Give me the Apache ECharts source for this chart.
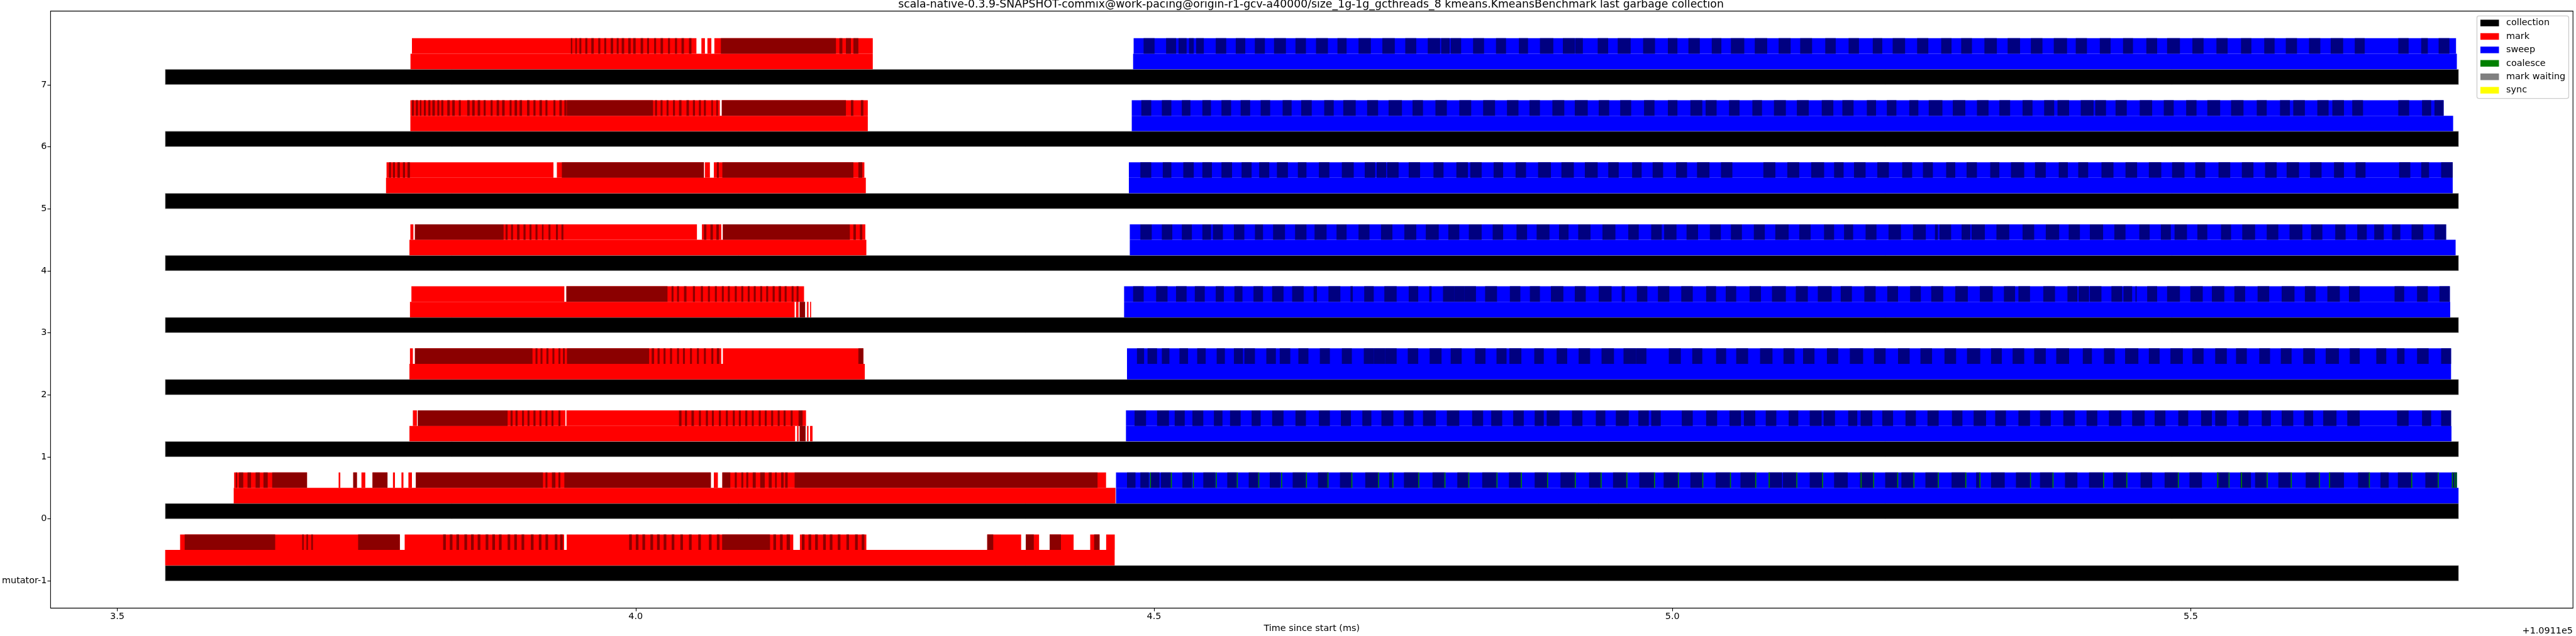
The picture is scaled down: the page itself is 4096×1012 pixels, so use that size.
<!DOCTYPE html>
<html><head><meta charset="utf-8">
<script src="https://cdn.jsdelivr.net/npm/echarts@6/dist/echarts.min.js"></script>
<style>html,body{margin:0;padding:0;background:#fff;}#chart{width:4096px;height:1012px;}</style>
</head><body><div id="chart"></div>
<script>
// ---------- DATA (times in ms, axis offset +1.0911e5) ----------
const titleText = 'scala-native-0.3.9-SNAPSHOT-commix@work-pacing@origin-r1-gcv-a40000/size_1g-1g_gcthreads_8 kmeans.KmeansBenchmark last garbage collection';
const rowLabels = ['mutator-1','0','1','2','3','4','5','6','7'];
const xTicks = [3.5, 4.0, 4.5, 5.0, 5.5];
const xOffsetLabel = '+1.0911e5';
const legendNames = ['collection','mark','sweep','coalesce','mark waiting','sync'];

// collection span per row (mutator-1, 0..7)
const collection = [[3.5462,5.7583],[3.5462,5.7583],[3.5462,5.7583],[3.5462,5.7583],[3.5462,5.7583],[3.5462,5.7583],[3.5462,5.7583],[3.5462,5.7583],[3.5462,5.7583]];
// mark phase per row
const markPhase = [[3.5462,4.4620],[3.6123,4.4628],[3.7818,4.1538],[3.7818,4.2210],[3.7823,4.1533],[3.7818,4.2225],[3.7592,4.2220],[3.7827,4.2239],[3.7828,4.2287]];
const markPhaseTail1 = [[4.1557,4.1571],[4.1653,4.1667],[4.1682,4.1706]];
const markPhaseTail3 = [[4.1547,4.1571],[4.1653,4.1667],[4.1682,4.1692]];
const markPhaseTailDark1 = [[4.1581,4.1639]];
const markPhaseTailDark3 = [[4.1581,4.1634]];
// sweep phase per row (mutator-1 has none)
const sweepPhase = [null,[4.4633,5.7582],[4.4729,5.7514],[4.4739,5.7510],[4.4711,5.7502],[4.4766,5.7554],[4.4757,5.7526],[4.4785,5.7530],[4.4798,5.7566]];
const sweepEvents = [null,[4.4633,5.7566],[4.4729,5.7510],[4.4739,5.7510],[4.4711,5.7498],[4.4766,5.7462],[4.4757,5.7526],[4.4785,5.7438],[4.4803,5.7558]];

// mark events (light = red, dark = dark red)
const markLightM = [[3.5606,3.7725],[3.7772,3.9310],[3.9335,4.1520],[4.1584,4.2225],[4.3391,4.3718],[4.3763,4.3891],[4.3993,4.4224],[4.4384,4.4474],[4.4538,4.4621]];
const markDarkM = [[3.5650,3.6523],[3.6783,3.6799],[3.6824,3.6840],[3.6871,3.6887],[3.7323,3.7725],[3.8143,3.8169],[3.8207,3.8233],[3.8271,3.8297],[3.8348,3.8374],[3.8412,3.8438],[3.8476,3.8502],[3.8553,3.8579],[3.8617,3.8643],[3.8681,3.8707],[3.8765,3.8790],[3.8829,3.8854],[3.8899,3.8925],[3.8989,3.9015],[3.9066,3.9091],[3.9130,3.9155],[3.9220,3.9245],[3.9271,3.9297],[3.9937,3.9963],[4.0001,4.0027],[4.0065,4.0091],[4.0142,4.0168],[4.0206,4.0232],[4.0270,4.0296],[4.0347,4.0373],[4.0431,4.0456],[4.0514,4.0540],[4.0604,4.0629],[4.0706,4.0732],[4.0783,4.0809],[4.0834,4.1296],[4.1328,4.1354],[4.1392,4.1418],[4.1456,4.1488],[4.1603,4.1629],[4.1667,4.1693],[4.1731,4.1757],[4.1808,4.1834],[4.1872,4.1898],[4.1949,4.1975],[4.2033,4.2058],[4.2116,4.2142],[4.2180,4.2206],[4.3391,4.3449],[4.3763,4.3840],[4.3993,4.4102],[4.4422,4.4474]];
const markLight0 = [[3.6127,3.6830],[3.7135,3.7151],[3.7276,3.7311],[3.7355,3.7392],[3.7462,3.7606],[3.7659,3.7678],[3.7741,3.7760],[3.7808,3.7842],[3.7880,4.0725],[4.0754,4.0793],[4.0836,4.4537]];
const markDark0 = [[3.6143,3.6155],[3.6174,3.6215],[3.6256,3.6290],[3.6334,3.6375],[3.6410,3.6451],[3.6494,3.6830],[3.7276,3.7311],[3.7462,3.7606],[3.7880,3.9106],[3.9130,3.9149],[3.9192,3.9226],[3.9255,3.9274],[3.9312,4.0725],[4.0836,4.0913],[4.0956,4.0975],[4.1019,4.1038],[4.1067,4.1086],[4.1129,4.1158],[4.1201,4.1245],[4.1283,4.1312],[4.1345,4.1360],[4.1403,4.1427],[4.1442,4.1466],[4.1533,4.4455]];
const markLight1 = [[3.7851,3.7890],[3.7899,3.9322],[3.9332,4.1643]];
const markDark1 = [[3.7899,3.8765],[3.8793,3.8813],[3.8841,3.8861],[3.8904,3.8923],[3.8957,3.8976],[3.9014,3.9034],[3.9072,3.9091],[3.9130,3.9149],[3.9188,3.9207],[3.9255,3.9274],[4.0418,4.0442],[4.0476,4.0495],[4.0538,4.0562],[4.0610,4.0629],[4.0677,4.0697],[4.0735,4.0754],[4.0802,4.0822],[4.0870,4.0889],[4.0937,4.0956],[4.0995,4.1014],[4.1057,4.1077],[4.1120,4.1139],[4.1187,4.1206],[4.1245,4.1264],[4.1307,4.1326],[4.1370,4.1389],[4.1427,4.1446],[4.1495,4.1514],[4.1571,4.1610]];
const markLight2 = [[3.7823,3.7851],[3.7871,4.0826],[4.0841,4.2196]];
const markDark2 = [[3.7871,3.9005],[3.9034,3.9053],[3.9082,3.9101],[3.9139,3.9159],[3.9197,3.9216],[3.9255,3.9274],[3.9298,3.9317],[3.9337,4.0130],[4.0154,4.0178],[4.0211,4.0231],[4.0269,4.0288],[4.0331,4.0351],[4.0399,4.0418],[4.0456,4.0475],[4.0524,4.0543],[4.0591,4.0610],[4.0658,4.0677],[4.0730,4.0749],[4.0783,4.0807],[4.2148,4.2196]];
const markLight3 = [[3.7837,3.9312],[3.9332,4.1624]];
const markDark3 = [[3.9332,4.0307],[4.0346,4.0365],[4.0399,4.0418],[4.0466,4.0490],[4.0552,4.0572],[4.0629,4.0649],[4.0697,4.0716],[4.0764,4.0783],[4.0831,4.0850],[4.0889,4.0908],[4.0956,4.0975],[4.1019,4.1038],[4.1081,4.1100],[4.1139,4.1158],[4.1201,4.1220],[4.1259,4.1278],[4.1321,4.1341],[4.1379,4.1403],[4.1437,4.1456],[4.1504,4.1523],[4.1552,4.1571]];
const markLight4 = [[3.7827,3.7856],[3.7871,4.0591],[4.0639,4.0826],[4.0841,4.2215]];
const markDark4 = [[3.7871,3.8726],[3.8745,3.8765],[3.8798,3.8817],[3.8856,3.8880],[3.8918,3.8938],[3.8976,3.8995],[3.9034,3.9053],[3.9096,3.9111],[3.9159,3.9178],[3.9231,3.9250],[3.9284,3.9303],[4.0658,4.0682],[4.0721,4.0745],[4.0778,4.0802],[4.0841,4.2066],[4.2100,4.2124],[4.2162,4.2186]];
const markLight5 = [[3.7597,3.9207],[3.9240,4.0658],[4.0668,4.0716],[4.0754,4.2206]];
const markDark5 = [[3.7621,3.7640],[3.7659,3.7678],[3.7702,3.7726],[3.7755,3.7775],[3.7799,3.7823],[3.9288,4.0658],[4.0783,4.0802],[4.0836,4.2100],[4.2148,4.2186]];
const markLight6 = [[3.7827,4.0812],[4.0831,4.2239]];
const markDark6 = [[3.7842,3.7861],[3.7880,3.7900],[3.7919,3.7933],[3.7957,3.7976],[3.8000,3.8020],[3.8039,3.8063],[3.8087,3.8106],[3.8125,3.8145],[3.8183,3.8207],[3.8231,3.8255],[3.8294,3.8313],[3.8375,3.8399],[3.8423,3.8447],[3.8476,3.8500],[3.8534,3.8553],[3.8601,3.8620],[3.8659,3.8683],[3.8712,3.8736],[3.8784,3.8803],[3.8832,3.8856],[3.8880,3.8904],[3.8952,3.8976],[3.9014,3.9034],[3.9072,3.9096],[3.9130,3.9149],[3.9207,3.9226],[3.9264,3.9288],[3.9312,3.9332],[3.9336,4.0168],[4.0187,4.0206],[4.0240,4.0259],[4.0298,4.0317],[4.0360,4.0379],[4.0418,4.0442],[4.0490,4.0514],[4.0552,4.0572],[4.0610,4.0629],[4.0658,4.0677],[4.0730,4.0745],[4.0778,4.0793],[4.0831,4.2028],[4.2076,4.2100],[4.2172,4.2196]];
const markLight7 = [[3.7842,4.0586],[4.0634,4.0668],[4.0692,4.0730],[4.0759,4.2287]];
const markDark7 = [[3.9375,3.9389],[3.9418,3.9433],[3.9457,3.9476],[3.9514,3.9534],[3.9572,3.9596],[3.9639,3.9659],[3.9697,3.9716],[3.9759,3.9783],[3.9817,3.9836],[3.9865,3.9889],[3.9928,3.9952],[3.9976,4.0000],[4.0048,4.0072],[4.0110,4.0129],[4.0178,4.0197],[4.0240,4.0264],[4.0312,4.0331],[4.0379,4.0399],[4.0442,4.0466],[4.0514,4.0538],[4.0822,4.1932],[4.1965,4.1994],[4.2028,4.2076],[4.2100,4.2148]];

// sweep events drawn dark (navy)
const sweepDark0 = [[4.4739,4.4821],[4.4868,4.4950],[4.4969,4.5052],[4.5066,4.5162],[4.5273,4.5365],[4.5475,4.5591],[4.5706,4.5798],[4.5913,4.6005],[4.6116,4.6217],[4.6337,4.6465],[4.6581,4.6682],[4.6793,4.6903],[4.7037,4.7161],[4.7267,4.7299],[4.7410,4.7548],[4.7686,4.7801],[4.7925,4.8031],[4.8165,4.8303],[4.8423,4.8538],[4.8671,4.8791],[4.8920,4.9058],[4.9196,4.9307],[4.9427,4.9556],[4.9680,4.9823],[4.9915,5.0053],[5.0173,5.0288],[5.0417,5.0555],[5.0656,5.0799],[5.0928,5.1057],[5.1066,5.1195],[5.1324,5.1444],[5.1559,5.1691],[5.1807,5.1936],[5.2052,5.2172],[5.2208,5.2324],[5.2440,5.2560],[5.2692,5.2825],[5.2929,5.2969],[5.3073,5.3205],[5.3313,5.3449],[5.3545,5.3666],[5.3786,5.3906],[5.4018,5.4154],[5.4250,5.4378],[5.4515,5.4627],[5.4747,5.4875],[5.4987,5.5107],[5.5251,5.5364],[5.5476,5.5580],[5.5620,5.5732],[5.5844,5.5964],[5.6108,5.6236],[5.6333,5.6477],[5.6613,5.6725],[5.6829,5.6909],[5.6997,5.7126],[5.7262,5.7382],[5.7518,5.7566]];
const sweepDark1 = [[4.4812,4.4923],[4.5029,4.5144],[4.5199,4.5296],[4.5370,4.5475],[4.5577,4.5660],[4.5733,4.5835],[4.5941,4.6028],[4.6139,4.6249],[4.6364,4.6465],[4.6590,4.6696],[4.6802,4.6899],[4.7009,4.7096],[4.7193,4.7308],[4.7410,4.7502],[4.7594,4.7718],[4.7824,4.7944],[4.8068,4.8174],[4.8252,4.8358],[4.8464,4.8566],[4.8671,4.8759],[4.8787,4.8911],[4.9031,4.9132],[4.9261,4.9353],[4.9454,4.9579],[4.9671,4.9772],[4.9795,4.9887],[5.0090,5.0196],[5.0325,5.0431],[5.0550,5.0661],[5.0689,5.0799],[5.0900,5.1002],[5.1121,5.1214],[5.1324,5.1439],[5.1458,5.1568],[5.1695,5.1783],[5.1815,5.1928],[5.2024,5.2128],[5.2248,5.2348],[5.2460,5.2568],[5.2696,5.2797],[5.2905,5.3025],[5.3113,5.3217],[5.3337,5.3449],[5.3545,5.3649],[5.3770,5.3882],[5.3994,5.4098],[5.4210,5.4330],[5.4434,5.4555],[5.4651,5.4755],[5.4879,5.4975],[5.5099,5.5203],[5.5235,5.5347],[5.5460,5.5556],[5.5684,5.5772],[5.5876,5.5988],[5.6092,5.6180],[5.6277,5.6405],[5.6509,5.6629],[5.6989,5.7101],[5.7230,5.7318],[5.7414,5.7510]];
const sweepDark2 = [[4.4835,4.4904],[4.4937,4.5029],[4.5075,4.5148],[4.5245,4.5328],[4.5416,4.5498],[4.5604,4.5683],[4.5770,4.5858],[4.5871,4.5973],[4.6083,4.6175],[4.6212,4.6314],[4.6392,4.6489],[4.6599,4.6696],[4.6811,4.6908],[4.7023,4.7119],[4.7119,4.7230],[4.7230,4.7340],[4.7447,4.7548],[4.7658,4.7773],[4.7861,4.7967],[4.8096,4.8197],[4.8303,4.8400],[4.8427,4.8543],[4.8667,4.8759],[4.8883,4.8985],[4.9095,4.9206],[4.9316,4.9436],[4.9528,4.9648],[4.9648,4.9749],[4.9965,5.0081],[5.0191,5.0288],[5.0421,5.0518],[5.0615,5.0730],[5.0845,5.0965],[5.1071,5.1177],[5.1260,5.1370],[5.1490,5.1599],[5.1711,5.1839],[5.1944,5.2056],[5.2176,5.2288],[5.2392,5.2504],[5.2624,5.2736],[5.2841,5.2969],[5.3073,5.3177],[5.3281,5.3393],[5.3489,5.3601],[5.3702,5.3826],[5.3958,5.4046],[5.4162,5.4266],[5.4366,5.4494],[5.4595,5.4699],[5.4803,5.4923],[5.5015,5.5123],[5.5235,5.5347],[5.5436,5.5540],[5.5660,5.5764],[5.5868,5.5972],[5.6084,5.6197],[5.6301,5.6429],[5.6533,5.6629],[5.6789,5.6885],[5.6989,5.7061],[5.7182,5.7294],[5.7414,5.7510]];
const sweepDark3 = [[4.4798,4.4900],[4.5020,4.5130],[4.5212,4.5314],[4.5393,4.5489],[4.5595,4.5673],[4.5775,4.5853],[4.5959,4.6051],[4.6139,4.6249],[4.6332,4.6443],[4.6539,4.6571],[4.6682,4.6797],[4.6894,4.6917],[4.7027,4.7119],[4.7221,4.7340],[4.7456,4.7548],[4.7654,4.7677],[4.7787,4.7898],[4.7898,4.7995],[4.7995,4.8105],[4.8193,4.8308],[4.8432,4.8533],[4.8625,4.8722],[4.8828,4.8948],[4.9058,4.9164],[4.9289,4.9413],[4.9510,4.9542],[4.9657,4.9758],[4.9860,4.9970],[5.0085,5.0196],[5.0325,5.0421],[5.0514,5.0615],[5.0744,5.0854],[5.0960,5.1094],[5.1190,5.1306],[5.1402,5.1536],[5.1623,5.1731],[5.1851,5.1960],[5.2072,5.2176],[5.2292,5.2396],[5.2496,5.2612],[5.2728,5.2849],[5.2965,5.3089],[5.3197,5.3305],[5.3337,5.3449],[5.3577,5.3690],[5.3810,5.3906],[5.3918,5.4018],[5.4026,5.4138],[5.4234,5.4338],[5.4350,5.4434],[5.4466,5.4478],[5.4579,5.4675],[5.4771,5.4895],[5.4995,5.5115],[5.5203,5.5323],[5.5420,5.5524],[5.5644,5.5756],[5.5876,5.6000],[5.6100,5.6204],[5.6317,5.6437],[5.6525,5.6629],[5.6965,5.7058],[5.7182,5.7286],[5.7398,5.7498]];
const sweepDark4 = [[4.4868,4.4978],[4.5075,4.5176],[4.5268,4.5365],[4.5466,4.5549],[4.5568,4.5664],[4.5770,4.5871],[4.5973,4.6051],[4.6148,4.6263],[4.6360,4.6470],[4.6548,4.6664],[4.6760,4.6857],[4.6972,4.7078],[4.7189,4.7299],[4.7414,4.7529],[4.7621,4.7746],[4.7838,4.7944],[4.8036,4.8160],[4.8266,4.8367],[4.8496,4.8598],[4.8690,4.8814],[4.8906,4.8998],[4.9091,4.9210],[4.9325,4.9450],[4.9574,4.9675],[4.9795,4.9897],[4.9920,5.0039],[5.0136,5.0247],[5.0361,5.0467],[5.0564,5.0670],[5.0785,5.0891],[5.0992,5.1121],[5.1223,5.1333],[5.1462,5.1559],[5.1655,5.1743],[5.1863,5.1968],[5.2084,5.2204],[5.2320,5.2444],[5.2532,5.2560],[5.2576,5.2688],[5.2789,5.2873],[5.2885,5.3013],[5.3125,5.3249],[5.3377,5.3489],[5.3601,5.3730],[5.3822,5.3930],[5.4026,5.4154],[5.4262,5.4370],[5.4503,5.4603],[5.4711,5.4807],[5.4843,5.4963],[5.5063,5.5159],[5.5291,5.5388],[5.5496,5.5620],[5.5732,5.5844],[5.5952,5.6076],[5.6160,5.6269],[5.6393,5.6493],[5.6605,5.6697],[5.6769,5.6861],[5.6941,5.7021],[5.7129,5.7242],[5.7350,5.7462]];
const sweepDark5 = [[4.4868,4.4973],[4.5084,4.5167],[4.5282,4.5383],[4.5466,4.5558],[4.5650,4.5752],[4.5844,4.5941],[4.6014,4.6111],[4.6185,4.6291],[4.6387,4.6470],[4.6590,4.6691],[4.6811,4.6926],[4.7032,4.7133],[4.7147,4.7239],[4.7248,4.7359],[4.7456,4.7566],[4.7695,4.7792],[4.7916,4.8027],[4.8050,4.8160],[4.8275,4.8367],[4.8487,4.8588],[4.8704,4.8828],[4.8929,4.9049],[4.9155,4.9279],[4.9381,4.9482],[4.9611,4.9703],[4.9809,4.9910],[5.0035,5.0141],[5.0237,5.0357],[5.0468,5.0578],[5.0877,5.0993],[5.1108,5.1223],[5.1338,5.1463],[5.1559,5.1651],[5.1751,5.1863],[5.1976,5.2088],[5.2216,5.2312],[5.2416,5.2512],[5.2640,5.2728],[5.2837,5.2937],[5.3065,5.3153],[5.3265,5.3393],[5.3497,5.3601],[5.3726,5.3814],[5.3914,5.4010],[5.4138,5.4254],[5.4370,5.4482],[5.4595,5.4715],[5.4819,5.4939],[5.5043,5.5139],[5.5267,5.5380],[5.5492,5.5604],[5.5716,5.5828],[5.5924,5.6044],[5.6149,5.6261],[5.6381,5.6477],[5.6589,5.6685],[5.7009,5.7117],[5.7222,5.7298],[5.7414,5.7526]];
const sweepDark6 = [[4.4877,4.4973],[4.5075,4.5167],[4.5268,4.5351],[4.5466,4.5549],[4.5650,4.5743],[4.5835,4.5927],[4.6028,4.6120],[4.6240,4.6327],[4.6419,4.6521],[4.6641,4.6733],[4.6825,4.6945],[4.7055,4.7161],[4.7262,4.7391],[4.7493,4.7594],[4.7714,4.7824],[4.7944,4.8059],[4.8174,4.8289],[4.8404,4.8515],[4.8621,4.8722],[4.8842,4.8957],[4.9058,4.9183],[4.9289,4.9390],[4.9496,4.9602],[4.9726,4.9827],[4.9956,5.0048],[5.0173,5.0288],[5.0320,5.0426],[5.0546,5.0647],[5.0771,5.0864],[5.0979,5.1094],[5.1200,5.1315],[5.1440,5.1552],[5.1639,5.1747],[5.1875,5.1964],[5.2068,5.2160],[5.2284,5.2372],[5.2472,5.2604],[5.2704,5.2825],[5.2937,5.3049],[5.3153,5.3257],[5.3377,5.3473],[5.3585,5.3682],[5.3714,5.3826],[5.3938,5.4062],[5.4078,5.4182],[5.4274,5.4382],[5.4507,5.4627],[5.4739,5.4835],[5.4955,5.5055],[5.5159,5.5283],[5.5388,5.5508],[5.5636,5.5732],[5.5860,5.5956],[5.5988,5.6100],[5.6220,5.6329],[5.6365,5.6477],[5.6557,5.6661],[5.7001,5.7106],[5.7230,5.7318],[5.7350,5.7438]];
const sweepDark7 = [[4.4899,4.5005],[4.5116,4.5213],[4.5236,4.5314],[4.5337,4.5383],[4.5406,4.5480],[4.5595,4.5696],[4.5788,4.5880],[4.5972,4.6069],[4.6157,4.6272],[4.6364,4.6465],[4.6562,4.6677],[4.6769,4.6857],[4.6972,4.7091],[4.7202,4.7322],[4.7423,4.7529],[4.7640,4.7759],[4.7769,4.7851],[4.7861,4.7962],[4.8077,4.8183],[4.8298,4.8395],[4.8519,4.8607],[4.8722,4.8851],[4.8943,4.9058],[4.9062,4.9136],[4.9279,4.9380],[4.9472,4.9597],[4.9717,4.9832],[4.9956,5.0048],[5.0154,5.0264],[5.0379,5.0472],[5.0564,5.0693],[5.0794,5.0914],[5.1024,5.1140],[5.1232,5.1347],[5.1474,5.1575],[5.1699,5.1799],[5.1932,5.2024],[5.2124,5.2244],[5.2360,5.2468],[5.2592,5.2692],[5.2785,5.2889],[5.3009,5.3129],[5.3233,5.3353],[5.3457,5.3569],[5.3678,5.3806],[5.3890,5.3998],[5.4122,5.4226],[5.4346,5.4442],[5.4571,5.4675],[5.4771,5.4895],[5.5015,5.5123],[5.5247,5.5355],[5.5484,5.5584],[5.5708,5.5808],[5.5916,5.6024],[5.6140,5.6249],[5.6349,5.6469],[5.6581,5.6677],[5.7001,5.7101],[5.7222,5.7286],[5.7390,5.7494]];
// coalesce events (row 0 only)
const coalesce0 = [[4.4960,4.4970],[4.5162,4.5172],[4.5374,4.5384],[4.5595,4.5605],[4.5798,4.5808],[4.6005,4.6015],[4.6226,4.6236],[4.6465,4.6475],[4.6673,4.6683],[4.6903,4.6913],[4.7161,4.7171],[4.7299,4.7309],[4.7548,4.7558],[4.7801,4.7811],[4.8031,4.8041],[4.8303,4.8313],[4.8538,4.8548],[4.8791,4.8801],[4.9058,4.9068],[4.9307,4.9317],[4.9556,4.9566],[4.9823,4.9833],[5.0053,5.0063],[5.0288,5.0298],[5.0555,5.0565],[5.0799,5.0809],[5.0928,5.0938],[5.1195,5.1205],[5.1444,5.1454],[5.1815,5.1825],[5.1936,5.1946],[5.2168,5.2178],[5.2324,5.2334],[5.2560,5.2570],[5.2825,5.2835],[5.2961,5.2971],[5.3449,5.3459],[5.3666,5.3676],[5.4154,5.4164],[5.4378,5.4388],[5.4875,5.4885],[5.5255,5.5265],[5.5364,5.5374],[5.5484,5.5494],[5.5732,5.5742],[5.5964,5.5974],[5.6236,5.6246],[5.6333,5.6343],[5.6717,5.6727],[5.7126,5.7136],[5.7382,5.7392],[5.7518,5.7528],[5.7542,5.7552],[5.7558,5.7566]];
const markWaiting = [];
const syncEvents = [];

// ---------- BUILD ----------
const markLight = [markLightM, markLight0, markLight1, markLight2, markLight3, markLight4, markLight5, markLight6, markLight7];
const markDark = [markDarkM, markDark0, markDark1, markDark2, markDark3, markDark4, markDark5, markDark6, markDark7];
const sweepDark = [[], sweepDark0, sweepDark1, sweepDark2, sweepDark3, sweepDark4, sweepDark5, sweepDark6, sweepDark7];
const markTailLight = [[], [], markPhaseTail1, [], markPhaseTail3, [], [], [], []];
const markTailDark = [[], [], markPhaseTailDark1, [], markPhaseTailDark3, [], [], [], []];
const coalesceRows = [[], coalesce0, [], [], [], [], [], [], []];

const LAYER_H = 0.25;
function listItems(perRow, layer) {
  const out = [];
  perRow.forEach((list, r) => (list || []).forEach(iv => out.push([iv[0], iv[1], r, layer])));
  return out;
}
function spanItems(perRow, layer) {
  const out = [];
  perRow.forEach((iv, r) => { if (iv) out.push([iv[0], iv[1], r, layer]); });
  return out;
}
function barSeries(name, color, data, stroke) {
  return {
    type: 'custom', name, data, clip: true, silent: true, animation: false,
    encode: { x: [0, 1], y: 2, tooltip: [] },
    itemStyle: { color },
    renderItem: (params, api) => {
      const r = api.value(2), L = api.value(3);
      const p0 = api.coord([api.value(0), r + L * LAYER_H]);
      const p1 = api.coord([api.value(1), r + (L + 1) * LAYER_H]);
      const style = stroke ? { fill: color, stroke: stroke, lineWidth: 0.8 } : { fill: color };
      return { type: 'rect', shape: { x: p0[0], y: p1[1], width: Math.max(p1[0] - p0[0], 0.8), height: p0[1] - p1[1] }, style };
    }
  };
}

const FONT = '"DejaVu Sans", sans-serif';
const chart = echarts.init(document.getElementById('chart'), null, { renderer: 'canvas' });
chart.setOption({
  animation: false,
  backgroundColor: '#ffffff',
  tooltip: { show: false },
  axisPointer: { show: false },
  title: { text: titleText, left: 2084.5, textAlign: 'center', top: -1, padding: 0, itemGap: 0,
    textStyle: { fontFamily: FONT, fontSize: 17.3, fontWeight: 'normal', color: '#000' } },
  grid: { left: 77.2, top: 17.6, width: 4014, height: 957.3, show: true, borderColor: '#000', borderWidth: 1.1, containLabel: false },
  xAxis: {
    type: 'value', min: 3.43564, max: 5.8686, position: 'bottom',
    axisLine: { show: false, onZero: false },
    axisTick: { show: true, customValues: xTicks, length: 5, lineStyle: { color: '#000', width: 1.1 } },
    axisLabel: { customValues: xTicks, formatter: v => v.toFixed(1), fontFamily: FONT, fontSize: 14.4, color: '#000', margin: 6.5 },
    splitLine: { show: false },
    name: 'Time since start (ms)', nameLocation: 'middle', nameGap: 24,
    nameTextStyle: { fontFamily: FONT, fontSize: 14.4, color: '#000' }
  },
  yAxis: {
    type: 'value', min: -0.4375, max: 9.1875, position: 'left',
    axisLine: { show: false, onZero: false },
    axisTick: { show: true, customValues: [0,1,2,3,4,5,6,7,8], length: 5, lineStyle: { color: '#000', width: 1.1 } },
    axisLabel: { customValues: [0,1,2,3,4,5,6,7,8], formatter: v => rowLabels[Math.round(v)], fontFamily: FONT, fontSize: 14.4, color: '#000', margin: 6 },
    splitLine: { show: false }
  },
  legend: {
    data: legendNames, orient: 'vertical', left: 3938.5, top: 25.4,
    padding: [4.2, 5.3, 6, 5.5], itemWidth: 29.5, itemHeight: 10.5, itemGap: 7.4,
    icon: 'rect', borderColor: '#cccccc', borderWidth: 1.3, borderRadius: 3, backgroundColor: 'rgba(255,255,255,0.8)',
    textStyle: { fontFamily: FONT, fontSize: 14.4, color: '#000', padding: [0, 0, 0, 6.5] },
    selectedMode: false
  },
  graphic: [{ type: 'text', x: 4091, y: 1004, silent: true,
    style: { text: xOffsetLabel, font: '14.4px "DejaVu Sans", sans-serif', fill: '#000', textAlign: 'right', textVerticalAlign: 'middle' } }],
  series: [
    barSeries('collection', '#000000', spanItems(collection, 0), '#d3d3d3'),
    barSeries('mark', '#ff0000', spanItems(markPhase, 1).concat(listItems(markTailLight, 1), listItems(markLight, 2))),
    barSeries('mark dark', '#8b0000', listItems(markTailDark, 1).concat(listItems(markDark, 2))),
    barSeries('sweep', '#0000ff', spanItems(sweepPhase, 1).concat(spanItems(sweepEvents, 2))),
    barSeries('sweep dark', '#000080', listItems(sweepDark, 2)),
    barSeries('coalesce', '#008000', listItems(coalesceRows, 2)),
    barSeries('mark waiting', '#808080', listItems([markWaiting], 2)),
    barSeries('sync', '#ffff00', listItems([syncEvents], 2))
  ]
});
</script></body></html>
